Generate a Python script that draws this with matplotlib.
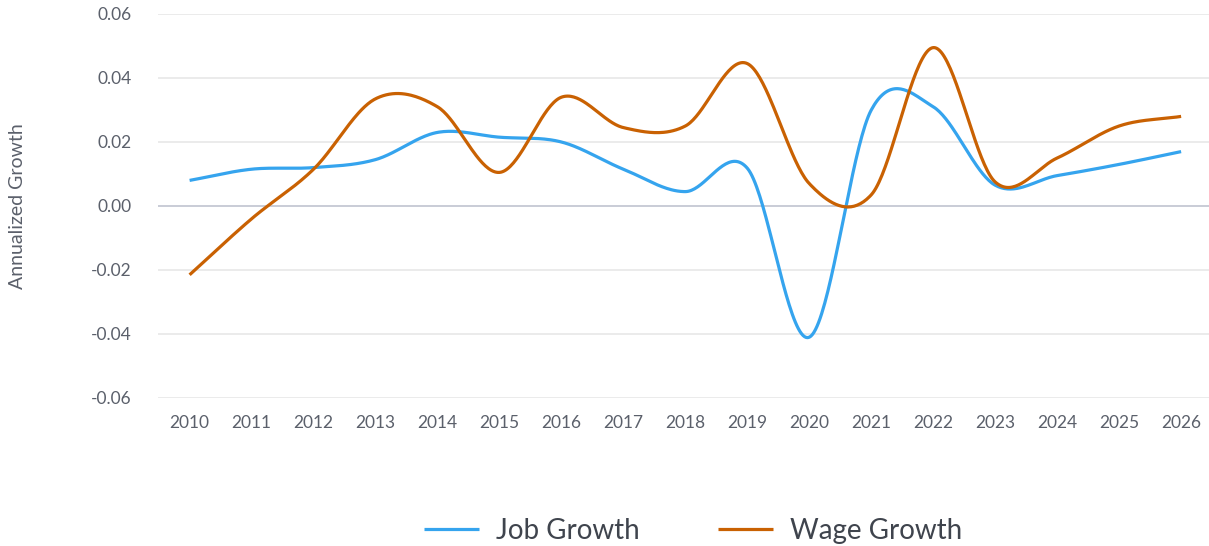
import numpy as np
import matplotlib
matplotlib.use('Agg')
import matplotlib.pyplot as plt

years = ['2010', '2011', '2012', '2013', '2014', '2015', '2016', '2017', '2018',
         '2019', '2020', '2021', '2022', '2023', '2024', '2025', '2026']
job_growth = [0.008, 0.0115, 0.012, 0.0145, 0.023, 0.0215, 0.020, 0.0115, 0.0045,
              0.0118, -0.041, 0.030, 0.031, 0.0065, 0.0095, 0.013, 0.017]
wage_growth = [-0.0215, -0.004, 0.0115, 0.0335, 0.031, 0.0105, 0.034, 0.0245, 0.025,
               0.0445, 0.007, 0.0035, 0.0495, 0.0075, 0.015, 0.025, 0.028]

text_color = '#5b606b'
plt.rcParams['font.family'] = ['Lato', 'DejaVu Sans']


def catmull_rom(y, steps=40):
    # smooth curve through every point (cardinal spline, like the web chart)
    y = np.asarray(y, dtype=float)
    n = len(y)
    m = np.zeros(n)
    m[1:-1] = (y[2:] - y[:-2]) / 2
    m[0] = y[1] - y[0]
    m[-1] = y[-1] - y[-2]
    xs, ys = [], []
    t = np.linspace(0, 1, steps, endpoint=False)
    for i in range(n - 1):
        h00 = 2 * t**3 - 3 * t**2 + 1
        h10 = t**3 - 2 * t**2 + t
        h01 = -2 * t**3 + 3 * t**2
        h11 = t**3 - t**2
        xs.append(i + t)
        ys.append(h00 * y[i] + h10 * m[i] + h01 * y[i + 1] + h11 * m[i + 1])
    xs.append([n - 1])
    ys.append([y[-1]])
    return np.concatenate(xs), np.concatenate(ys)


fig = plt.figure(figsize=(12.09, 5.46), dpi=100)
ax = fig.add_axes([158 / 1209, 1 - 398 / 546, 1 - 158 / 1209, 384 / 546])

for yv in np.arange(-0.06, 0.061, 0.02):
    if abs(yv) < 1e-9:
        ax.axhline(0, color='#c5c8d3', lw=1.3, zorder=1)
    else:
        ax.axhline(yv, color='#e8e8e8', lw=1.2, zorder=0)

jx, jy = catmull_rom(job_growth)
wx, wy = catmull_rom(wage_growth)
ax.plot(jx, jy, color='#35a4ee', lw=2.3, label='Job Growth', solid_capstyle='butt', zorder=3)
ax.plot(wx, wy, color='#c96102', lw=2.3, label='Wage Growth', solid_capstyle='butt', zorder=3)

ax.set_xlim(-0.51, 16.45)
ax.set_ylim(-0.06, 0.06)
ax.set_xticks(range(len(years)))
ax.set_xticklabels(years)
ax.set_yticks(np.arange(-0.06, 0.061, 0.02))
ax.set_yticklabels(['%.2f' % v if abs(v) > 1e-9 else '0.00' for v in np.arange(-0.06, 0.061, 0.02)])
ax.tick_params(axis='both', length=0, labelsize=12.5, labelcolor=text_color)
ax.tick_params(axis='x', pad=12)
ax.tick_params(axis='y', pad=19)
for s in ax.spines.values():
    s.set_visible(False)

fig.text(18 / 1209, 1 - 206 / 546, 'Annualized Growth', rotation=90, fontsize=14,
         color=text_color, ha='center', va='center')

fig.legend(loc='center', bbox_to_anchor=(693 / 1209, 1 - 531 / 546), ncol=2,
           frameon=False, fontsize=20, handlelength=2.0, handletextpad=0.6,
           columnspacing=2.8, labelcolor='#3f444d')

fig.savefig('out.png', dpi=100)
